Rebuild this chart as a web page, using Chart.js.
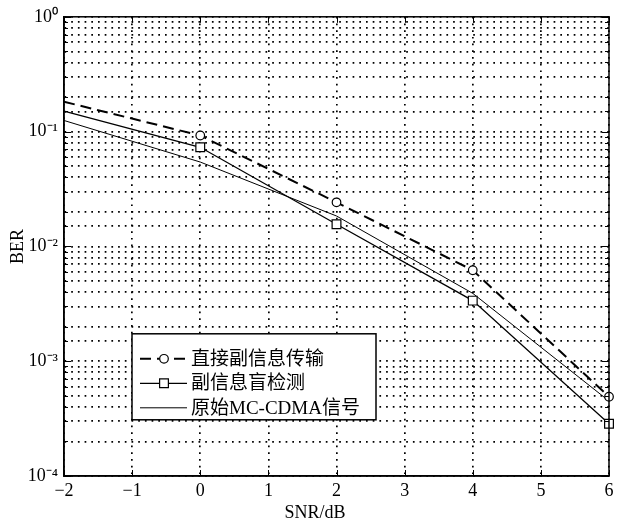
<!DOCTYPE html>
<html>
<head>
<meta charset="utf-8">
<script src="https://cdn.jsdelivr.net/npm/chart.js@4.4.1/dist/chart.umd.min.js"></script>
<style>
  html, body { margin: 0; padding: 0; background: #fff; }
</style>
</head>
<body>
<canvas id="berChart" width="632" height="526"></canvas>
<script>
// data
const snr = [-2, 0, 2, 4, 6];
const berDirect = [0.182, 0.0925, 0.0242, 0.0062, 0.00049];
const berBlind = [0.151, 0.073, 0.0156, 0.00337, 0.000285];
const berOriginal = [0.125, 0.0543, 0.0184, 0.0039, 0.00045];
const seriesNames = ['直接副信息传输', '副信息盲检测', '原始MC-CDMA信号'];

const xTickValues = [-2, -1, 0, 1, 2, 3, 4, 5, 6];
const xTickLabels = ['\u22122', '\u22121', '0', '1', '2', '3', '4', '5', '6'];
const yTickValues = [1e-4, 1e-3, 1e-2, 1e-1, 1];
const yTickLabels = ['10\u207B\u2074', '10\u207B\u00B3', '10\u207B\u00B2', '10\u207B\u00B9', '10\u2070'];

const SERIF = '"Liberation Serif", "Times New Roman", "Noto Sans CJK SC", serif';
Chart.defaults.font.family = SERIF;
Chart.defaults.color = '#000';

// box, inward ticks, legend, x title
const framePlugin = {
  id: 'frame',
  afterDraw(chart) {
    const ctx = chart.ctx;
    const a = chart.chartArea;
    const x = chart.scales.x, y = chart.scales.y;
    ctx.save();
    ctx.strokeStyle = '#000';
    ctx.setLineDash([]);
    ctx.lineWidth = 1.5;
    ctx.strokeRect(a.left, a.top, a.right - a.left, a.bottom - a.top);

    ctx.lineWidth = 1;
    ctx.beginPath();
    x.ticks.forEach(t => {
      const px = Math.round(x.getPixelForValue(t.value)) + 0.5;
      ctx.moveTo(px, a.bottom); ctx.lineTo(px, a.bottom - 6);
      ctx.moveTo(px, a.top); ctx.lineTo(px, a.top + 6);
    });
    y.ticks.forEach(t => {
      const e = Math.log10(t.value);
      const len = Math.abs(e - Math.round(e)) < 1e-6 ? 7 : 4;
      const py = Math.round(y.getPixelForValue(t.value)) + 0.5;
      ctx.moveTo(a.left, py); ctx.lineTo(a.left + len, py);
      ctx.moveTo(a.right, py); ctx.lineTo(a.right - len, py);
    });
    ctx.stroke();

    // legend
    const lx = a.left + 68, ly = a.top + 317, lw = 244, lh = 86;
    ctx.fillStyle = '#fff';
    ctx.fillRect(lx, ly, lw, lh);
    ctx.lineWidth = 1.5;
    ctx.strokeRect(lx, ly, lw, lh);
    chart.data.datasets.forEach((ds, i) => {
      const cy = ly + 25 + i * 24.5;
      ctx.strokeStyle = '#000';
      ctx.lineWidth = ds.borderWidth;
      ctx.setLineDash(ds.borderDash || []);
      ctx.beginPath();
      ctx.moveTo(lx + 8, cy); ctx.lineTo(lx + 55, cy);
      ctx.stroke();
      ctx.setLineDash([]);
      if (ds.pointStyle) {
        ctx.fillStyle = '#fff';
        ctx.lineWidth = ds.pointBorderWidth;
        Chart.helpers.drawPoint(ctx, {
          pointStyle: ds.pointStyle, radius: ds.markerSize,
          borderWidth: ds.pointBorderWidth, rotation: 0
        }, lx + 32, cy);
      }
      ctx.fillStyle = '#000';
      ctx.font = '19px ' + SERIF;
      ctx.textAlign = 'left';
      ctx.textBaseline = 'middle';
      ctx.fillText(ds.label, lx + 59, cy + 1);
    });

    ctx.font = '18px ' + SERIF;
    ctx.fillStyle = '#000';
    ctx.textAlign = 'center';
    ctx.textBaseline = 'middle';
    ctx.fillText('SNR/dB', 315, 513);
    ctx.restore();
  }
};

const toPoints = vals => snr.map((s, i) => ({x: s, y: vals[i]}));
// no marker on the first point (x = -2)
const markerRadii = r => snr.map((s, i) => (i === 0 ? 0 : r));

new Chart(document.getElementById('berChart'), {
  type: 'line',
  data: {
    datasets: [
      {
        label: seriesNames[0],
        data: toPoints(berDirect),
        borderColor: '#000',
        borderWidth: 2,
        borderDash: [11, 6],
        pointStyle: 'circle',
        markerSize: 4.3,
        pointRadius: markerRadii(4.3),
        pointBackgroundColor: '#fff',
        pointBorderColor: '#000',
        pointBorderWidth: 1.2,
        clip: false
      },
      {
        label: seriesNames[1],
        data: toPoints(berBlind),
        borderColor: '#000',
        borderWidth: 1.3,
        pointStyle: 'rect',
        markerSize: 6.2,
        pointRadius: markerRadii(6.2),
        pointBackgroundColor: '#fff',
        pointBorderColor: '#000',
        pointBorderWidth: 1.2,
        clip: false
      },
      {
        label: seriesNames[2],
        data: toPoints(berOriginal),
        borderColor: '#000',
        borderWidth: 1,
        pointStyle: false,
        pointRadius: 0,
        clip: false
      }
    ]
  },
  options: {
    responsive: false,
    animation: false,
    layout: { padding: { top: 15, right: 23, left: 0, bottom: 0 } },
    plugins: { legend: { display: false }, tooltip: { enabled: false } },
    scales: {
      x: {
        type: 'linear',
        min: -2,
        max: 6,
        afterFit: s => { s.height = 50; },
        afterBuildTicks: s => { s.ticks = xTickValues.map(v => ({value: v})); },
        ticks: {
          padding: 4,
          font: { size: 18 },
          callback: v => xTickLabels[xTickValues.indexOf(v)]
        },
        grid: { color: '#000', lineWidth: 1.7, drawTicks: false },
        border: { display: true, color: '#000', width: 1.5, dash: [1.7, 5] }
      },
      y: {
        type: 'logarithmic',
        min: 1e-4,
        max: 1,
        afterFit: s => { s.width = 64; },
        title: { display: true, text: 'BER', font: { size: 18 }, padding: { top: 7, bottom: 0 } },
        ticks: {
          autoSkip: false,
          padding: 6,
          font: { size: 18 },
          callback: v => {
            const i = yTickValues.findIndex(d => Math.abs(d - v) / d < 1e-6);
            return i >= 0 ? yTickLabels[i] : '';
          }
        },
        grid: { color: '#000', lineWidth: 1.7, drawTicks: false },
        border: { display: true, color: '#000', width: 1.5, dash: [1.7, 5] }
      }
    }
  },
  plugins: [framePlugin]
});
</script>
</body>
</html>
